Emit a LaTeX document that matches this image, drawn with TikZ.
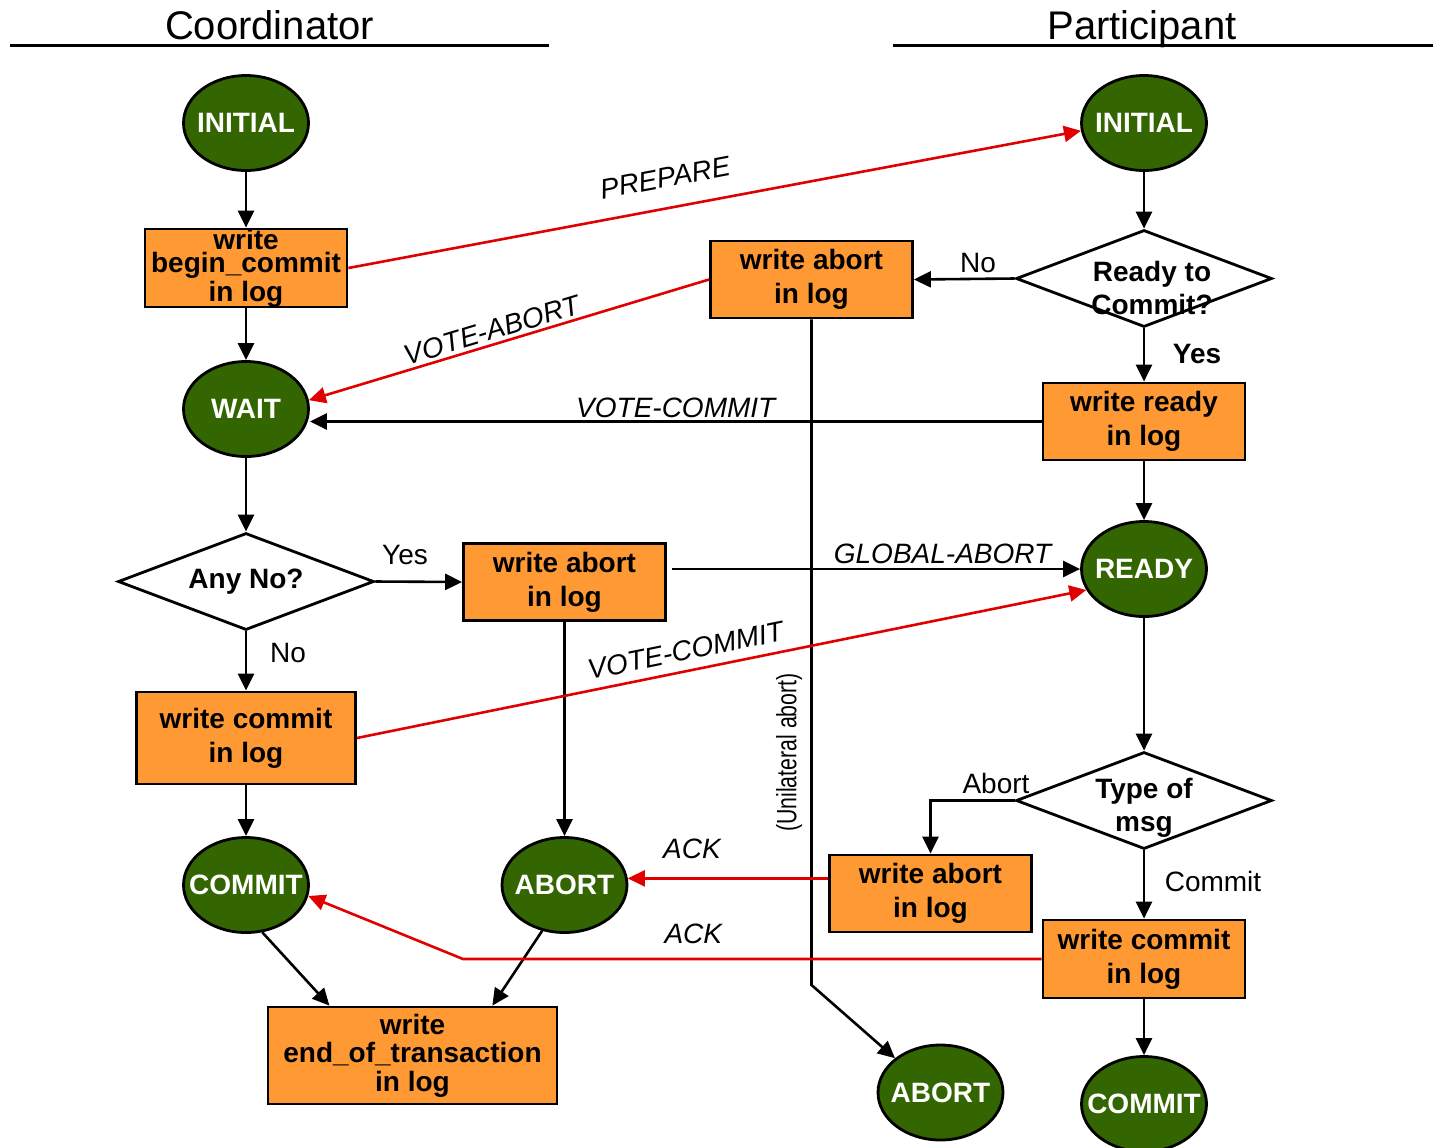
\documentclass[tikz,border=0pt]{standalone}
\usepackage{fontspec}
\usepackage{graphicx}
\setmainfont{Liberation Sans}
\usetikzlibrary{shapes.geometric, arrows.meta, calc}
\definecolor{stategreen}{RGB}{51,102,0}
\definecolor{logorange}{RGB}{255,153,51}
\definecolor{msgred}{RGB}{225,0,0}
% state names are set without width so that every state keeps the same oval
\newcommand{\stname}[1]{\makebox[0pt][c]{#1}}

\begin{document}
\begin{tikzpicture}[x=0.5pt, y=-0.5pt,
  state/.style={ellipse, draw=black, line width=1.4pt, fill=stategreen, text=white,
    font=\fontsize{14}{17}\selectfont\bfseries, minimum width=62.5pt, minimum height=47.5pt, inner sep=0pt},
  logbox/.style={rectangle, draw=black, line width=1.4pt, fill=logorange,
    font=\fontsize{14}{17}\selectfont\bfseries, align=center, inner sep=0pt,
    minimum width=101pt, minimum height=38.5pt},
  decision/.style={diamond, draw=black, line width=1.4pt, fill=white,
    minimum width=128pt, minimum height=48.5pt, inner sep=0pt},
  dtext/.style={font=\fontsize{14}{16.5}\selectfont\bfseries, align=center, inner sep=0pt},
  tip/.style={-{Triangle[length=8.5pt,width=8pt]}},
  rtip/.style={{Triangle[length=8.5pt,width=8pt]}-},
  flow/.style={draw=black, line width=1.3pt},
  msg/.style={msgred, line width=1.3pt},
  lbl/.style={font=\fontsize{14}{17}\selectfont, inner sep=0pt, text=black},
  msglbl/.style={font=\fontsize{14}{17}\selectfont\itshape, inner sep=0pt, text=black},
  head/.style={font=\fontsize{20}{24}\selectfont, inner sep=0pt, anchor=base},
  rule/.style={line width=1.5pt}
]
\useasboundingbox (0,0) rectangle (1433,1147);
\clip (0,0) rectangle (1433,1147);

% column headings
\node[head] (coordhead) at (269.5,39) {Coordinator};
\coordinate (cruleL) at (10,45);
\coordinate (cruleR) at (549,45);
\draw[rule] (cruleL) -- (cruleR);
\node[head] (parthead) at (1142,39) {Participant};
\coordinate (pruleL) at (893,45);
\coordinate (pruleR) at (1433,45);
\draw[rule] (pruleL) -- (pruleR);

% coordinator side
\node[state] (cinit) at (246,123) {\stname{INITIAL}};
\node[logbox, font=\fontsize{14}{11.75}\selectfont\bfseries] (cbegin) at (246,268) {write\\begin\_commit\\in log};
\node[state] (wait) at (246,409) {\stname{WAIT}};
\node[decision, label={[dtext]center:Any No?}] (anyno) at (246,581.5) {};
\node[logbox] (cabort) at (564.5,582) {write abort\\in log};
\node[logbox, minimum width=109.5pt, minimum height=46pt] (ccommit) at (246,738) {write commit\\in log};
\node[state] (ccommitst) at (246,885) {\stname{COMMIT}};
\node[state] (cabortst) at (564.5,885) {\stname{ABORT}};
\node[logbox, minimum width=144.5pt, minimum height=48.5pt, font=\fontsize{14}{14.25}\selectfont\bfseries] (ceot) at (412.5,1055.5) {write\\end\_of\_transaction\\in log};

% participant side
\node[state] (pinit) at (1144,123) {\stname{INITIAL}};
\node[decision, label={[dtext, xshift=4pt, yshift=-4.75pt]center:{Ready to\\Commit?}}] (pdecide) at (1144,278.5) {};
\node[logbox] (pabort1) at (811.5,279.5) {write abort\\in log};
\node[logbox] (pready) at (1144,421.5) {write ready\\in log};
\node[state] (readyst) at (1144,569) {\stname{READY}};
\node[decision, label={[dtext, yshift=-3.5pt]center:{Type of\\msg}}] (ptype) at (1144,800.5) {};
\node[logbox] (pabort2) at (930.5,893.5) {write abort\\in log};
\node[logbox, minimum height=39pt] (pcommit) at (1144,959) {write commit\\in log};
\node[state] (pabortst) at (940.5,1092.5) {\stname{ABORT}};
\node[state] (pcommitst) at (1144,1104) {\stname{COMMIT}};

% coordinator transitions
\draw[flow, tip] (cinit) -- (cbegin);
\draw[flow, tip] (cbegin) -- (wait);
\draw[flow, tip] (wait) -- (anyno);
\draw[flow, tip] (anyno) -- (ccommit);
\draw[flow, tip] (anyno.east) -- (cabort.west);
\draw[flow, tip] (ccommit) -- (ccommitst);
\draw[flow, tip] (cabort) -- (cabortst);
\draw[flow, tip] (ccommitst.-71) -- (ceot.149);
\draw[flow, tip] (cabortst.244) -- (ceot.32);
\node[lbl] (lblyes1) at (405,555) {Yes};
\node[lbl] (lblno1) at (288,653) {No};

% participant transitions
\draw[flow, tip] (pinit) -- (pdecide);
\draw[flow, tip] (pdecide.west) -- (pabort1.east);
\draw[flow, tip] (pdecide) -- (pready);
\draw[flow, tip] (pready) -- (readyst);
\draw[flow, tip] (readyst) -- (ptype);
\draw[flow, tip] (ptype.west) -| (pabort2.north);
\draw[flow, tip] (ptype) -- (pcommit);
\draw[flow, tip] (pcommit) -- (pcommitst);
\node[lbl] (lblno2) at (978,263) {No};
\node[lbl, font=\fontsize{14}{17}\selectfont\bfseries] (lblyes2) at (1197,354) {Yes};
\node[lbl] (lblabort) at (996,783) {Abort};
\node[lbl] (lblcommit) at (1213,881) {Commit};

% unilateral abort
\coordinate (ubend) at (811.5,985);
\draw[flow, tip] (pabort1.south) -- (ubend) -- (pabortst.143);
\node[lbl, rotate=90] (lblunil) at (789,752.5) {\scalebox{0.76}[1]{(Unilateral abort)}};

% messages
\draw[msg, tip] (cbegin.east) -- node[msglbl, sloped, above=9.75pt, pos=0.44] (lblprep) {PREPARE} (pinit.187);
\draw[msg, rtip] (wait.8) -- node[msglbl, sloped, above=1.5pt, pos=0.468] (lblva) {VOTE-ABORT} (pabort1.west);
\draw[flow, tip] (pready.west) -- node[msglbl, above=1pt] (lblvc1) {VOTE-COMMIT} (pready.west -| wait.east);
\draw[flow, tip] ([xshift=2.5pt]cabort.east |- readyst.west) -- node[msglbl, above=2pt, pos=0.663] (lblga) {GLOBAL-ABORT} (readyst.west);
\draw[msg, tip] (ccommit.east) -- node[msglbl, sloped, above=4.5pt, pos=0.456] (lblvc2) {VOTE-COMMIT} (readyst.200);
\draw[msg, rtip] (cabortst.6) -- node[msglbl, above=9pt, pos=0.32] (lblack1) {ACK} (pabort2.west |- cabortst.6);
\coordinate (ackbend) at (463,959);
\draw[msg, tip] (pcommit.west) -- node[msglbl, above=7pt, pos=0.602] (lblack2) {ACK} (ackbend) -- (ccommitst.-10);
\end{tikzpicture}
\end{document}
